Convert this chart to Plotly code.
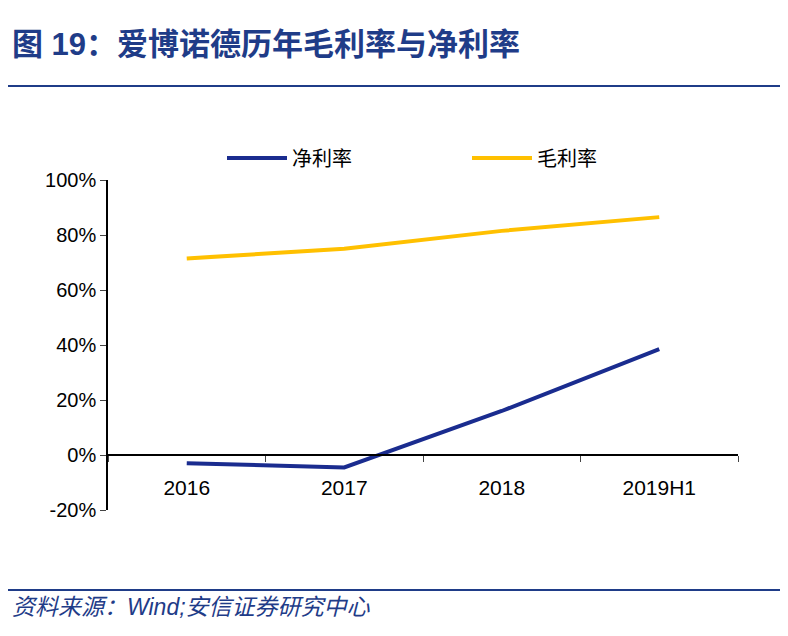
import plotly.graph_objects as go

categories = ["2016", "2017", "2018", "2019H1"]
net_margin = [-3.0, -4.5, 16.0, 38.5]
gross_margin = [71.5, 75.0, 81.5, 86.5]
y_ticks = [-20, 0, 20, 40, 60, 80, 100]
y_tick_text = [f"{v}%" for v in y_ticks]

# page is rendered with an 8px body margin, so positions are shifted by 8
OFF = 8
W, H = 788, 636
L, R, T, B = 108 - OFF, 50 + OFF, 180 - OFF, 126 + OFF
pw, ph = W - L - R, H - T - B


def px(x):
    return (x - OFF - L) / pw


def py(y):
    return (H - B - (y - OFF)) / ph


fig = go.Figure()
fig.add_trace(go.Scatter(x=categories, y=net_margin, name="净利率", mode="lines",
                         line=dict(color="#1a2c8f", width=4), legend="legend"))
fig.add_trace(go.Scatter(x=categories, y=gross_margin, name="毛利率", mode="lines",
                         line=dict(color="#ffc000", width=4), legend="legend2"))

leg = dict(orientation="h", yanchor="middle", xanchor="left", font=dict(size=20),
           bgcolor="rgba(0,0,0,0)", itemwidth=60)
fig.update_layout(
    width=W, height=H,
    margin=dict(l=L, r=R, t=T, b=B, autoexpand=False),
    plot_bgcolor="white", paper_bgcolor="white",
    font=dict(family="Liberation Sans, Noto Sans CJK SC", size=20, color="black"),
    showlegend=True,
    legend=dict(leg, x=px(222), y=py(158)),
    legend2=dict(leg, x=px(467), y=py(158)),
    xaxis=dict(type="category", anchor="free", position=(20 / 120), showline=True,
               linecolor="black", linewidth=1.5, ticks="outside", ticklen=6,
               tickson="boundaries", showgrid=False, range=[-0.5, 3.5], automargin=False,
               ticklabelstandoff=14, tickfont=dict(size=21)),
    yaxis=dict(range=[-20, 100], tickmode="array", tickvals=y_ticks, ticktext=y_tick_text,
               showline=True, linecolor="black", linewidth=1.5, ticks="outside", ticklen=6,
               showgrid=False, zeroline=False, automargin=False),
    shapes=[
        dict(type="line", xref="paper", yref="paper", x0=px(8), x1=px(780),
             y0=py(86), y1=py(86), line=dict(color="#1f3c88", width=2)),
        dict(type="line", xref="paper", yref="paper", x0=px(8), x1=px(780),
             y0=py(590), y1=py(590), line=dict(color="#1f3c88", width=2)),
    ],
    annotations=[
        dict(text="<b>图 19：爱博诺德历年毛利率与净利率</b>", xref="paper", yref="paper",
             x=px(10), y=py(44), xanchor="left", yanchor="middle", showarrow=False,
             font=dict(size=31, color="#1f3c88")),
        dict(text="<i>资料来源：Wind;安信证券研究中心</i>", xref="paper", yref="paper",
             x=px(10), y=py(607), xanchor="left", yanchor="middle", showarrow=False,
             font=dict(size=23, color="#1f3c88")),
    ],
)

fig.write_html("out.html")
